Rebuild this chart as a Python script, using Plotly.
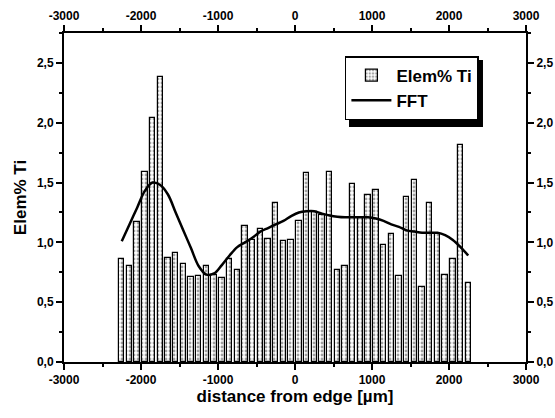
import plotly.graph_objects as go

# distance from edge (µm), bar centres
positions = [-2250, -2150, -2050, -1950, -1850, -1750, -1650, -1550, -1450, -1350,
             -1250, -1150, -1050, -950, -850, -750, -650, -550, -450, -350,
             -250, -150, -50, 50, 150, 250, 350, 450, 550, 650,
             750, 850, 950, 1050, 1150, 1250, 1350, 1450, 1550, 1650,
             1750, 1850, 1950, 2050, 2150, 2250]
elem_ti = [0.86, 0.80, 1.17, 1.59, 2.04, 2.38, 0.87, 0.91, 0.82, 0.71,
           0.72, 0.80, 0.73, 0.70, 0.86, 0.77, 1.14, 1.02, 1.11, 1.03,
           1.33, 1.01, 1.02, 1.18, 1.58, 1.25, 1.23, 1.59, 0.77, 0.80,
           1.49, 1.20, 1.40, 1.44, 0.98, 1.07, 0.72, 1.38, 1.52, 0.63,
           1.33, 1.07, 0.73, 0.86, 1.81, 0.66]
fft = [1.01, 1.15, 1.29, 1.43, 1.50, 1.48, 1.40, 1.25, 1.10, 0.95,
       0.80, 0.73, 0.74, 0.81, 0.89, 0.96, 1.00, 1.04, 1.09, 1.12,
       1.15, 1.18, 1.22, 1.25, 1.26, 1.26, 1.24, 1.225, 1.215, 1.21,
       1.21, 1.21, 1.21, 1.20, 1.18, 1.15, 1.13, 1.10, 1.09, 1.08,
       1.08, 1.08, 1.06, 1.02, 0.96, 0.89]

x_ticks = [-3000, -2000, -1000, 0, 1000, 2000, 3000]
x_ticktext = ["-3000", "-2000", "-1000", "0", "1000", "2000", "3000"]
y_ticks = [0.0, 0.5, 1.0, 1.5, 2.0, 2.5]
y_ticktext = ["0,0", "0,5", "1,0", "1,5", "2,0", "2,5"]

FONT = "Liberation Sans, Arial, sans-serif"

fig = go.Figure()
fig.add_trace(go.Bar(
    x=positions, y=elem_ti, name="Elem% Ti", width=70,
    marker=dict(color="white", line=dict(color="black", width=1.2),
                pattern=dict(shape=".", fgcolor="#444444", bgcolor="white",
                             size=4, solidity=0.4)),
))
fig.add_trace(go.Scatter(
    x=positions, y=fft, name="FFT", mode="lines",
    line=dict(color="black", width=2.5, shape="spline", smoothing=1.0),
))
# invisible trace to carry top/right axes
fig.add_trace(go.Scatter(
    x=positions, y=fft, xaxis="x2", yaxis="y2", mode="lines",
    line=dict(color="rgba(0,0,0,0)"), showlegend=False, hoverinfo="skip",
))

axis_common = dict(
    showline=True, linecolor="black", linewidth=2, ticks="outside",
    ticklen=6, tickwidth=1.5, tickcolor="black", showgrid=False, zeroline=False,
    automargin=False,
    tickfont=dict(family=FONT, size=12, color="black", weight="bold"),
)

fig.update_layout(
    width=555, height=418,
    margin=dict(l=64, r=29, t=33, b=56),
    paper_bgcolor="white", plot_bgcolor="white",
    showlegend=True,
    bargap=0,
    xaxis=dict(range=[-3000, 3000], tickvals=x_ticks, ticktext=x_ticktext,
               minor=dict(dtick=500, tick0=-3000, ticklen=3, tickcolor="black", ticks="outside"),
               title=dict(text="distance from edge [µm]", standoff=4,
                          font=dict(family=FONT, size=17, color="black", weight="bold")),
               **axis_common),
    xaxis2=dict(range=[-3000, 3000], tickvals=x_ticks, ticktext=x_ticktext,
                overlaying="x", side="top",
                minor=dict(dtick=500, tick0=-3000, ticklen=3, tickcolor="black", ticks="outside"),
                **axis_common),
    yaxis=dict(range=[0, 2.75], tickvals=y_ticks, ticktext=y_ticktext,
               minor=dict(dtick=0.25, tick0=0, ticklen=3, tickcolor="black", ticks="outside"),
               title=dict(text="Elem% Ti", standoff=6,
                          font=dict(family=FONT, size=17, color="black", weight="bold")),
               **axis_common),
    yaxis2=dict(range=[0, 2.75], tickvals=y_ticks, ticktext=y_ticktext,
                overlaying="y", side="right",
                minor=dict(dtick=0.25, tick0=0, ticklen=3, tickcolor="black", ticks="outside"),
                **axis_common),
    legend=dict(x=0.608, y=0.930, xanchor="left", yanchor="top",
                bgcolor="white", bordercolor="black", borderwidth=1.5,
                font=dict(family=FONT, size=17, color="black", weight="bold"),
                tracegroupgap=0, itemwidth=40),
    shapes=[dict(type="rect", xref="paper", yref="paper",
                 x0=0.6169, x1=0.9069, y0=0.7143, y1=0.9179,
                 fillcolor="black", line=dict(width=0), layer="above")],
)

fig.write_html("out.html")
